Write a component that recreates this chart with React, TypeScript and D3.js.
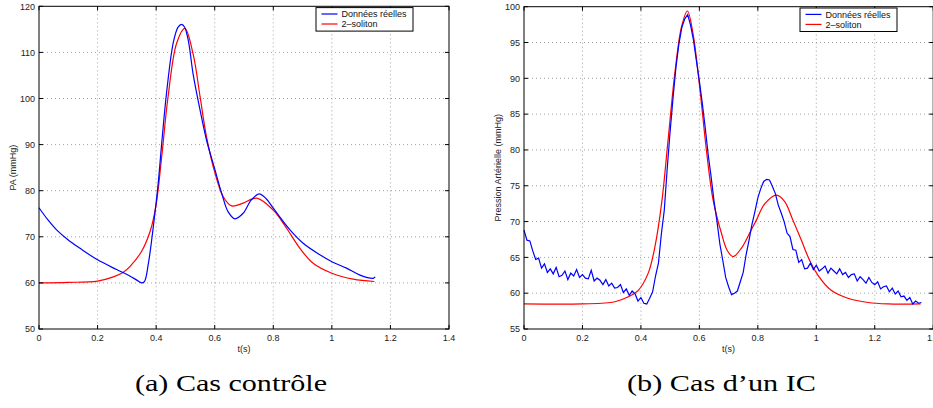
import React from "react";
import * as d3 from "d3";

// ---------- DATA ----------
const seriesNames = ["Données réelles", "2–soliton"];

// Chart (a): Cas contrôle
const aBlueT = [0, 0.03, 0.06, 0.1, 0.14, 0.2, 0.265, 0.31, 0.334, 0.35, 0.36, 0.373, 0.393, 0.407, 0.42, 0.436, 0.459, 0.475, 0.487, 0.497, 0.51, 0.527, 0.55, 0.572, 0.601, 0.624, 0.646, 0.669, 0.697, 0.725, 0.752, 0.775, 0.8, 0.857, 0.902, 0.959, 1.0, 1.05, 1.096, 1.141, 1.148];
const aBlueV = [76.3, 73.7, 71.5, 69.3, 67.5, 65.0, 62.9, 61.5, 60.6, 60.0, 60.3, 64.0, 73.6, 81.6, 91.0, 101.5, 112.3, 115.5, 116.1, 115.5, 112.5, 105.0, 97.5, 91.0, 84.5, 79.4, 75.4, 73.9, 75.1, 78.0, 79.3, 78.3, 76.2, 71.5, 68.6, 66.1, 64.6, 63.2, 61.7, 61.0, 61.3];
const aRedT = [0, 0.1, 0.2, 0.254, 0.288, 0.311, 0.35, 0.38, 0.4, 0.42, 0.44, 0.47, 0.498, 0.527, 0.55, 0.572, 0.601, 0.629, 0.658, 0.697, 0.743, 0.8, 0.846, 0.891, 0.937, 1.0, 1.073, 1.145];
const aRedV = [60.0, 60.1, 60.4, 61.3, 62.3, 63.6, 66.8, 71.3, 77.0, 88.0, 100.0, 112.0, 115.2, 109.4, 100.4, 91.7, 83.8, 78.7, 76.7, 77.3, 78.4, 75.8, 71.8, 67.5, 64.2, 62.1, 60.8, 60.3];

// Chart (b): Cas d'un IC — real data sampled every 0.01 s
const bBlueV = [
  68.8, 67.4, 67.3, 65.9, 64.7, 64.9, 63.5, 64.1, 62.9, 63.4,
  62.7, 63.6, 62.3, 62.5, 63.1, 61.9, 62.8, 62.4, 63.3, 62.2,
  62.6, 62.1, 62.0, 63.2, 61.7, 62.1, 61.8, 61.2, 61.9, 61.0,
  61.4, 60.7, 60.8, 61.2, 60.1, 60.6, 59.7, 60.3, 59.9, 58.9,
  59.4, 58.6, 58.5, 59.3, 60.2, 62.4, 64.2, 68.3, 71.6, 77.4,
  82.6, 87.3, 91.6, 94.8, 97.1, 98.3, 98.9, 97.4, 95.3, 92.4,
  89.6, 86.5, 83.1, 79.4, 76.3, 72.9, 70.1, 66.9, 64.6, 62.2,
  60.9, 59.8, 60.0, 60.3, 61.6, 62.9, 65.4, 67.4, 69.6, 71.4,
  73.3, 74.6, 75.6, 75.9, 75.8, 74.9, 73.9, 72.3, 71.2, 70.0,
  68.4, 67.9, 66.1, 66.0, 64.3, 64.7, 63.4, 63.5, 64.2, 63.3,
  63.9, 63.1, 63.4, 63.8, 62.8, 63.5, 63.1, 62.7, 63.4, 62.6,
  62.9, 62.2, 62.6, 62.7, 61.7, 62.3, 61.9, 61.4, 62.2, 61.5,
  61.2, 61.6, 60.6, 60.9, 61.0, 60.2, 60.7, 59.9, 60.3, 59.5,
  59.6, 59.0, 59.4, 58.5, 58.9, 58.6, 58.7,
];
const bBlueStep = 0.01;
const bRedT = [0, 0.2, 0.311, 0.357, 0.391, 0.425, 0.448, 0.471, 0.493, 0.516, 0.539, 0.559, 0.578, 0.601, 0.624, 0.647, 0.676, 0.695, 0.715, 0.744, 0.772, 0.795, 0.824, 0.864, 0.892, 0.92, 0.949, 0.977, 1.006, 1.051, 1.108, 1.177, 1.245, 1.357];
const bRedV = [58.5, 58.5, 58.8, 59.5, 60.4, 62.8, 66.5, 72.6, 81.4, 90.7, 97.2, 99.4, 96.3, 88.8, 80.0, 73.0, 68.3, 66.0, 65.1, 66.3, 68.4, 70.2, 72.5, 73.7, 72.8, 70.2, 67.4, 64.6, 62.5, 60.4, 59.3, 58.7, 58.5, 58.5];

const xTicks = [0, 0.2, 0.4, 0.6, 0.8, 1, 1.2, 1.4];
const aYTicks = [50, 60, 70, 80, 90, 100, 110, 120];
const bYTicks = [55, 60, 65, 70, 75, 80, 85, 90, 95, 100];

const captionA = "(a) Cas contrôle";
const captionB = "(b) Cas d’un IC";

// ---------- COMPONENTS ----------
type Pt = [number, number];

const sans = "'Liberation Sans', Arial, Helvetica, sans-serif";

function Panel(props: {
  left: number; right: number; top: number; bottom: number;
  yDomain: [number, number]; yTicks: number[]; yLabel: string;
  blue: Pt[]; red: Pt[]; blueCurve: any; legendX: number;
}) {
  const { left, right, top, bottom, yDomain, yTicks, yLabel, blue, red, blueCurve, legendX } = props;
  const x = d3.scaleLinear().domain([0, 1.4]).range([left, right]);
  const y = d3.scaleLinear().domain(yDomain).range([bottom, top]);
  const lineB = d3.line<Pt>().x((d) => x(d[0])).y((d) => y(d[1])).curve(blueCurve);
  const lineR = d3.line<Pt>().x((d) => x(d[0])).y((d) => y(d[1])).curve(d3.curveCatmullRom.alpha(0.5));
  const tl = 4;
  const lgW = 97, lgH = 23.5, lgY = top + 1.3;
  return (
    <g>
      {xTicks.slice(1, -1).map((t) => (
        <line key={"gx" + t} x1={x(t)} x2={x(t)} y1={top} y2={bottom} stroke="#8a8a8a" strokeWidth={0.8} strokeDasharray="1 3" />
      ))}
      {yTicks.slice(1, -1).map((t) => (
        <line key={"gy" + t} x1={left} x2={right} y1={y(t)} y2={y(t)} stroke="#8a8a8a" strokeWidth={0.8} strokeDasharray="1 3" />
      ))}
      <path d={lineR(red) || ""} fill="none" stroke="#ff0000" strokeWidth={1.2} />
      <path d={lineB(blue) || ""} fill="none" stroke="#0000ff" strokeWidth={1.2} />
      <rect x={left} y={top} width={right - left} height={bottom - top} fill="none" stroke="#000" strokeWidth={1} />
      {xTicks.map((t) => (
        <g key={"tx" + t}>
          <line x1={x(t)} x2={x(t)} y1={bottom} y2={bottom - tl} stroke="#000" />
          <line x1={x(t)} x2={x(t)} y1={top} y2={top + tl} stroke="#000" />
          <text x={x(t)} y={bottom + 12} textAnchor="middle" fontSize={9} fontFamily={sans} fill="#222">{String(t)}</text>
        </g>
      ))}
      {yTicks.map((t) => (
        <g key={"ty" + t}>
          <line x1={left} x2={left + tl} y1={y(t)} y2={y(t)} stroke="#000" />
          <line x1={right} x2={right - tl} y1={y(t)} y2={y(t)} stroke="#000" />
          <text x={left - 4} y={y(t) + 3.2} textAnchor="end" fontSize={9} fontFamily={sans} fill="#222">{String(t)}</text>
        </g>
      ))}
      <text x={(left + right) / 2} y={bottom + 23} textAnchor="middle" fontSize={9} fontFamily={sans} fill="#222">t(s)</text>
      <text transform={`translate(${left - 23},${(top + bottom) / 2}) rotate(-90)`} textAnchor="middle" fontSize={9} fontFamily={sans} fill="#222">{yLabel}</text>
      <g>
        <rect x={legendX} y={lgY} width={lgW} height={lgH} fill="#fff" stroke="#000" strokeWidth={1} />
        <line x1={legendX + 5.5} x2={legendX + 21.5} y1={lgY + 6.4} y2={lgY + 6.4} stroke="#0000ff" strokeWidth={1.2} />
        <line x1={legendX + 5.5} x2={legendX + 21.5} y1={lgY + 16.4} y2={lgY + 16.4} stroke="#ff0000" strokeWidth={1.2} />
        <text x={legendX + 25.5} y={lgY + 9.6} fontSize={9} fontFamily={sans} fill="#111">{seriesNames[0]}</text>
        <text x={legendX + 25.5} y={lgY + 19.6} fontSize={9} fontFamily={sans} fill="#111">{seriesNames[1]}</text>
      </g>
    </g>
  );
}

export default function App() {
  const aBlue: Pt[] = aBlueT.map((t, i) => [t, aBlueV[i]]);
  const aRed: Pt[] = aRedT.map((t, i) => [t, aRedV[i]]);
  const bBlue: Pt[] = bBlueV.map((v, i) => [i * bBlueStep, v]);
  const bRed: Pt[] = bRedT.map((t, i) => [t, bRedV[i]]);
  return (
    <svg width={933} height={408} style={{ position: "absolute", left: 0, top: 0, background: "#fff" }}>
      <rect x={0} y={0} width={933} height={408} fill="#fff" />
      <Panel left={39} right={449} top={6.3} bottom={329} yDomain={[50, 120]} yTicks={aYTicks}
        yLabel="PA (mmHg)" blue={aBlue} red={aRed} blueCurve={d3.curveCatmullRom.alpha(0.5)} legendX={316} />
      <Panel left={524} right={933.2} top={6.7} bottom={329} yDomain={[55, 100]} yTicks={bYTicks}
        yLabel="Pression Artérielle (mmHg)" blue={bBlue} red={bRed} blueCurve={d3.curveLinear} legendX={800} />
      <text x={231} y={391} textAnchor="middle" fontSize={24} fontFamily="'Liberation Serif', 'DejaVu Serif', serif" fill="#000" textLength={192} lengthAdjust="spacingAndGlyphs">{captionA}</text>
      <text x={721.5} y={391} textAnchor="middle" fontSize={24} fontFamily="'Liberation Serif', 'DejaVu Serif', serif" fill="#000" textLength={189} lengthAdjust="spacingAndGlyphs">{captionB}</text>
    </svg>
  );
}
